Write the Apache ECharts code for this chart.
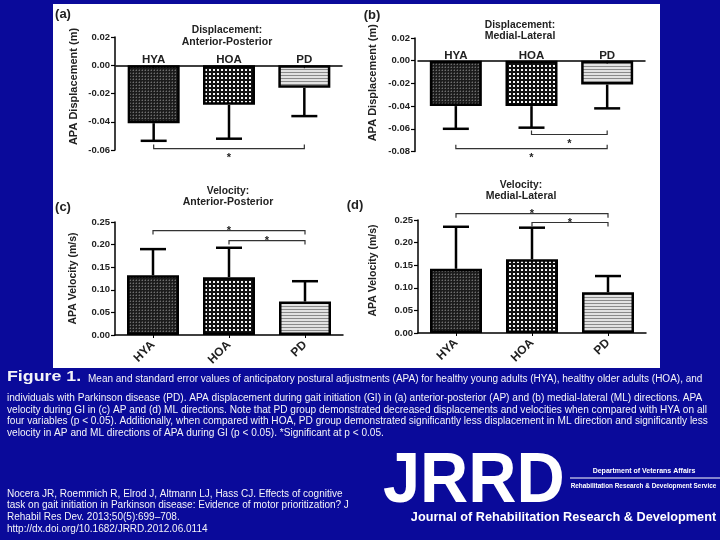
<!DOCTYPE html>
<html><head><meta charset="utf-8">
<script src="https://cdn.jsdelivr.net/npm/echarts@6/dist/echarts.min.js"></script>
<style>html,body{margin:0;padding:0;background:#0a0a9a;}#c{width:720px;height:540px;}</style>
</head><body><div id="c"></div>
<script>
// ---- data ----
const categories = ['HYA', 'HOA', 'PD'];
const apDispMean = [-0.041, -0.028, -0.016];
const apDispSE   = [0.0125, 0.024, 0.020];
const mlDispMean = [-0.040, -0.040, -0.021];
const mlDispSE   = [0.020, 0.019, 0.021];
const apVelMean  = [0.132, 0.128, 0.074];
const apVelSE    = [0.058, 0.065, 0.045];
const mlVelMean  = [0.142, 0.163, 0.090];
const mlVelSE    = [0.093, 0.070, 0.036];
// significance brackets: [fromIndex, toIndex, level]
const apDispSig = [[0, 2, -0.059]];
const mlDispSig = [[1, 2, -0.065], [0, 2, -0.0775]];
const apVelSig  = [[0, 2, 0.231], [1, 2, 0.209]];
const mlVelSig  = [[0, 2, 0.264], [1, 2, 0.2445]];
// axis ranges
const dispApRange = [-0.06, 0.02];
const dispMlRange = [-0.08, 0.02];
const dispStep = 0.02;
const velRange = [0, 0.25];
const velStep = 0.05;

const FF = "'Liberation Sans', Arial, Helvetica, sans-serif";

function pattern(w, h, draw) {
  const c = document.createElement('canvas'); c.width = w; c.height = h;
  draw(c.getContext('2d'));
  return { image: c, repeat: 'repeat' };
}
const patHYA = pattern(3, 3, g => {
  g.fillStyle = '#1c1c1c'; g.fillRect(0, 0, 3, 3);
  g.fillStyle = '#6e6e6e'; g.fillRect(1, 1, 1, 1);
  g.fillStyle = '#404040'; g.fillRect(0, 1, 1, 1); g.fillRect(1, 0, 1, 1);
});
const patHOA = pattern(4, 4, g => {
  g.fillStyle = '#111'; g.fillRect(0, 0, 4, 4);
  g.fillStyle = '#f4f4f4'; g.fillRect(1, 1, 2, 2);
});
const patPD = pattern(4, 3, g => {
  g.fillStyle = '#e2e2e2'; g.fillRect(0, 0, 4, 3);
  g.fillStyle = '#8a8a8a'; g.fillRect(0, 0, 4, 1);
});
const pats = [patHYA, patHOA, patPD];

const grids = [
  { left: 116, top: 37, width: 226, height: 113 },
  { left: 418, top: 38, width: 227, height: 113.5 },
  { left: 115, top: 222, width: 228, height: 113 },
  { left: 418, top: 220, width: 228, height: 113 }
];

function yAxis(i, range, step, name, offset, nameGap, padLeft, nameSize) {
  return {
    type: 'value', gridIndex: i, min: range[0], max: range[1], interval: step, offset: offset,
    axisLine: { show: true, lineStyle: { color: '#000', width: 1.5 } },
    axisTick: { show: true, length: 4, lineStyle: { color: '#000', width: 1.2 } },
    axisLabel: { formatter: v => v.toFixed(2), fontSize: 9.5, fontWeight: 'bold', color: '#222', margin: 5, fontFamily: FF },
    splitLine: { show: false },
    name: name, nameLocation: 'middle', nameGap: nameGap,
    nameTextStyle: { fontSize: nameSize, fontWeight: 'bold', color: '#222', fontFamily: FF, padding: [0, 0, 0, padLeft] }
  };
}
function xZero(i) {
  return {
    type: 'category', gridIndex: i, data: categories, position: 'bottom',
    axisLine: { onZero: true, lineStyle: { color: '#000', width: 1.5 } },
    axisTick: { show: false },
    axisLabel: { show: false }
  };
}
function xBottom(i) {
  return {
    type: 'category', gridIndex: i, data: categories, position: 'bottom',
    axisLine: { lineStyle: { color: '#000', width: 1.5 } },
    axisTick: { show: true, alignWithLabel: true, length: 3, lineStyle: { color: '#000' } },
    axisLabel: { fontSize: 12, fontWeight: 'bold', color: '#222', margin: 8, rotate: 45, fontFamily: FF }
  };
}
// category labels sitting on the zero line (panels a, b)
function zeroLabels(i) {
  return {
    type: 'custom', xAxisIndex: i, yAxisIndex: i, z: 4, clip: false,
    encode: { x: 0, y: 1 },
    data: categories.map((c, k) => [k, 0]),
    renderItem: (p, api) => {
      const k = api.value(0);
      const q = api.coord([k, 0]);
      return { type: 'group', children: [
        { type: 'text', style: { text: categories[k], x: q[0], y: q[1] - 5, align: 'center', verticalAlign: 'middle',
          font: 'bold 11.5px ' + FF, fill: '#222' } },
        { type: 'line', shape: { x1: q[0], y1: q[1], x2: q[0], y2: q[1] + 3 }, style: { stroke: '#000', lineWidth: 1 } }
      ] };
    }
  };
}
function bars(i, mean) {
  return {
    type: 'bar', xAxisIndex: i, yAxisIndex: i, barWidth: 52, z: 2,
    itemStyle: { borderColor: '#000', borderWidth: 2.5 },
    data: mean.map((v, k) => ({ value: v, itemStyle: { color: pats[k] } }))
  };
}
function errs(i, mean, se) {
  return {
    type: 'custom', xAxisIndex: i, yAxisIndex: i, z: 3, clip: false,
    encode: { x: 0, y: 1 },
    data: mean.map((m, k) => [k, m, se[k]]),
    renderItem: (p, api) => {
      const k = api.value(0), m = api.value(1), s = api.value(2);
      const end = m < 0 ? m - s : m + s;
      const a = api.coord([k, m]), b = api.coord([k, end]);
      const hw = 13;
      return { type: 'group', children: [
        { type: 'line', shape: { x1: a[0], y1: a[1], x2: b[0], y2: b[1] }, style: { stroke: '#000', lineWidth: 2.5 } },
        { type: 'line', shape: { x1: b[0] - hw, y1: b[1], x2: b[0] + hw, y2: b[1] }, style: { stroke: '#000', lineWidth: 2.5 } }
      ] };
    }
  };
}
function sigs(i, sig, dir, starDy) {
  return {
    type: 'custom', xAxisIndex: i, yAxisIndex: i, z: 3, clip: false,
    encode: { x: 0, y: 2 },
    data: sig,
    renderItem: (p, api) => {
      const a = api.value(0), b = api.value(1), y = api.value(2);
      const p0 = api.coord([a, y]), p1 = api.coord([b, y]);
      const t = 4 * dir;
      return { type: 'group', children: [
        { type: 'polyline', shape: { points: [[p0[0], p0[1] + t], [p0[0], p0[1]], [p1[0], p1[1]], [p1[0], p1[1] + t]] },
          style: { stroke: '#333', lineWidth: 1.2, fill: null } },
        { type: 'text', style: { text: '*', x: (p0[0] + p1[0]) / 2, y: p0[1] + starDy, align: 'center', verticalAlign: 'middle',
          font: 'bold 11px ' + FF, fill: '#222' } }
      ] };
    }
  };
}

function txt(x, y, text, size, opts) {
  opts = opts || {};
  return {
    type: 'text', x: x, y: y, z: 10, scaleX: opts.scaleX || 1,
    style: { text: text, fill: opts.fill || '#222', align: opts.align || 'center', verticalAlign: 'middle',
      font: (opts.weight || 'bold') + ' ' + size + 'px ' + FF }
  };
}
const W = '#f4f4f8';
const captionLines = [
  'individuals with Parkinson disease (PD). APA displacement during gait initiation (GI) in (a) anterior-posterior (AP) and (b) medial-lateral (ML) directions. APA',
  'velocity during GI in (c) AP and (d) ML directions. Note that PD group demonstrated decreased displacements and velocities when compared with HYA on all',
  'four variables (p < 0.05). Additionally, when compared with HOA, PD group demonstrated significantly less displacement in ML direction and significantly less',
  'velocity in AP and ML directions of APA during GI (p < 0.05). *Significant at p < 0.05.'
];
const citeLines = [
  'Nocera JR, Roemmich R, Elrod J, Altmann LJ, Hass CJ. Effects of cognitive',
  'task on gait initiation in Parkinson disease: Evidence of motor prioritization? J',
  'Rehabil Res Dev. 2013;50(5):699\u2013708.',
  'http://dx.doi.org/10.1682/JRRD.2012.06.0114'
];
const capY = [398.5, 410, 421.5, 433];
const citeY = [494, 505.5, 517, 529];

const graphics = [
  { type: 'rect', z: -100, shape: { x: 53, y: 4, width: 607, height: 364 }, style: { fill: '#ffffff' } },
  txt(63, 14, '(a)', 13), txt(372, 15, '(b)', 13), txt(63, 207, '(c)', 13), txt(355, 205, '(d)', 13),
  txt(227, 30.5, 'Displacement:', 10.3), txt(227, 42, 'Anterior-Posterior', 10.5),
  txt(520, 25, 'Displacement:', 10.3), txt(520, 36.5, 'Medial-Lateral', 10.5),
  txt(228, 191.5, 'Velocity:', 10.3), txt(228, 202.5, 'Anterior-Posterior', 10.5),
  txt(521, 185, 'Velocity:', 10.3), txt(521, 196.5, 'Medial-Lateral', 10.5),
  txt(7, 377, 'Figure 1.', 14, { align: 'left', fill: W, scaleX: 1.27 }),
  txt(88, 379, 'Mean and standard error values of anticipatory postural adjustments (APA) for healthy young adults (HYA), healthy older adults (HOA), and', 10, { align: 'left', fill: W, weight: 'normal' })
];
captionLines.forEach((s, k) => graphics.push(txt(7, capY[k], s, 10.1, { align: 'left', fill: W, weight: 'normal' })));
citeLines.forEach((s, k) => graphics.push(txt(7, citeY[k], s, 10, { align: 'left', fill: W, weight: 'normal' })));
graphics.push(
  txt(383, 482, 'JRRD', 71, { align: 'left', fill: '#fff', scaleX: 0.94 }),
  txt(644, 471, 'Department of Veterans Affairs', 7, { fill: '#fff' }),
  { type: 'line', z: 10, shape: { x1: 570, y1: 478, x2: 720, y2: 478 }, style: { stroke: '#fff', lineWidth: 1 } },
  txt(643.5, 486, 'Rehabilitation Research & Development Service', 6.4, { fill: '#fff' }),
  txt(563.5, 517.3, 'Journal of Rehabilitation Research & Development', 12.7, { fill: '#fff' })
);

const chart = echarts.init(document.getElementById('c'), null, { renderer: 'canvas' });
chart.setOption({
  backgroundColor: '#0a0a9a',
  animation: false,
  textStyle: { fontFamily: FF },
  grid: grids,
  xAxis: [xZero(0), xZero(1), xBottom(2), xBottom(3)],
  yAxis: [
    yAxis(0, dispApRange, dispStep, 'APA Displacement (m)', 1, 35.5, 14, 11),
    yAxis(1, dispMlRange, dispStep, 'APA Displacement (m)', 3, 36.5, 24, 11),
    yAxis(2, velRange, velStep, 'APA Velocity (m/s)', 0, 36.5, 0, 10.5),
    yAxis(3, velRange, velStep, 'APA Velocity (m/s)', 0, 39.5, 12, 10.5)
  ],
  series: [
    bars(0, apDispMean), errs(0, apDispMean, apDispSE), sigs(0, apDispSig, -1, 9), zeroLabels(0),
    bars(1, mlDispMean), errs(1, mlDispMean, mlDispSE), sigs(1, mlDispSig, -1, 9), zeroLabels(1),
    bars(2, apVelMean), errs(2, apVelMean, apVelSE), sigs(2, apVelSig, 1, 0.5),
    bars(3, mlVelMean), errs(3, mlVelMean, mlVelSE), sigs(3, mlVelSig, 1, 0.5)
  ],
  graphic: graphics
});
</script>
</body></html>
